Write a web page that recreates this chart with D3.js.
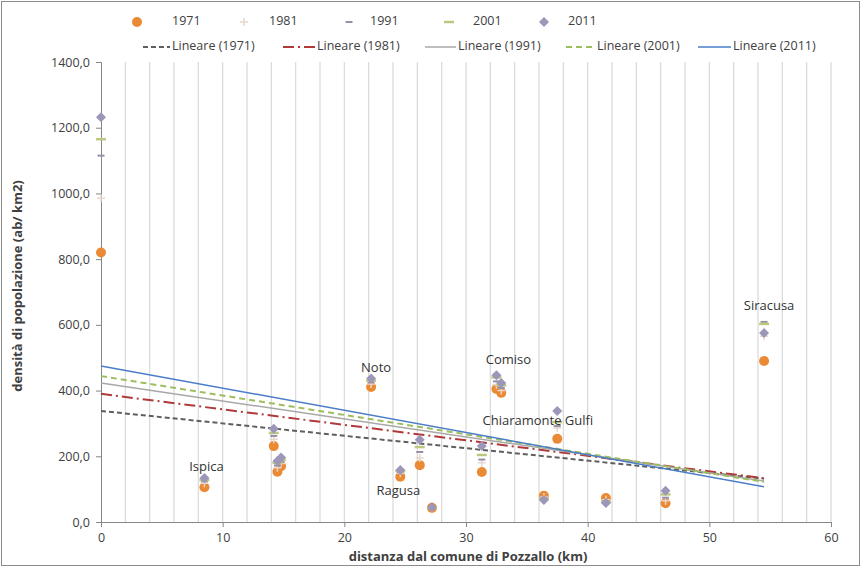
<!DOCTYPE html>
<html><head><meta charset="utf-8">
<script src="https://cdn.jsdelivr.net/npm/d3@7"></script>
<style>body{margin:0;background:#fff}svg{display:block}text{font-family:"Open Sans","Liberation Sans",sans-serif}</style>
</head><body><svg id="c" width="862" height="568"></svg>
<script>
// ---- data ----
const distances = [0, 8.5, 14.2, 14.5, 14.8, 22.2, 24.6, 26.2, 27.2, 31.3, 32.5, 32.9, 36.4, 37.5, 41.5, 46.4, 54.5];
const d1971 = [820, 106, 231, 153, 170, 411, 138, 173, 43, 152, 405, 393, 80, 253, 73, 57, 490];
const d1981 = [985, 118, 252, 165, 178, 420, 148, 195, 42, 180, 418, 400, 76, 286, 68, 65, 565];
const d1991 = [1115, 124, 262, 172, 184, 425, 152, 213, 43, 190, 428, 408, 73, 292, 64, 74, 609];
const d2001 = [1165, 128, 271, 180, 190, 430, 155, 228, 43, 204, 440, 416, 70, 304, 61, 84, 603];
const d2011 = [1232, 134, 284, 186, 196, 437, 158, 250, 45, 231, 447, 423, 67, 338, 58, 95, 575];
const townNames = ["", "Ispica", "", "", "", "Noto", "Ragusa", "", "", "", "Comiso", "", "Chiaramonte Gulfi", "", "", "", "Siracusa"];
const years = ["1971", "1981", "1991", "2001", "2011"];
const trendX = [0, 54.5];
const trendStart = [338, 390, 423, 444, 475];
const trendEnd = [132, 133, 125, 122, 107];
const xTicks = [0, 10, 20, 30, 40, 50, 60];
const yTicks = [0, 200, 400, 600, 800, 1000, 1200, 1400];

// ---- layout / styles ----
const series = [d1971, d1981, d1991, d2001, d2011];
const M = {l: 101, r: 831, t: 62, b: 522};
const markerStyle = [
  {type: "circle", color: "#EB8A35"},
  {type: "plus", color: "#E8D6CC"},
  {type: "dash", color: "#9A8FA6"},
  {type: "dash2", color: "#B9C97E"},
  {type: "diamond", color: "#9C97B8"}
];
const lineStyle = [
  {color: "#5F5F5F", dash: "5,3", w: 2},
  {color: "#B03A3A", dash: "11,4,2,4", w: 2},
  {color: "#A8A8A8", dash: null, w: 1.5},
  {color: "#9DBE5C", dash: "6,4", w: 2},
  {color: "#4A7EC7", dash: null, w: 1.5}
];
const labelOffset = {"Ispica": [2, -10], "Noto": [5, -10], "Ragusa": [-2, 21], "Comiso": [12, -15], "Chiaramonte Gulfi": [-6, -78], "Siracusa": [5, -27]};

const svg = d3.select("#c");
const x = d3.scaleLinear().domain([0, 60]).range([M.l, M.r]);
const y = d3.scaleLinear().domain([0, 1400]).range([M.b, M.t]);

// frame
svg.append("rect").attr("x", 1.5).attr("y", 1.5).attr("width", 858).attr("height", 564)
  .attr("fill", "none").attr("stroke", "#8C8C8C").attr("stroke-width", 1);

// vertical grid every 2 km
svg.append("g").selectAll("line").data(d3.range(2, 61, 2)).join("line")
  .attr("x1", d => x(d)).attr("x2", d => x(d)).attr("y1", M.t).attr("y2", M.b)
  .attr("stroke", "#D9D9D9").attr("stroke-width", 1.2);

// axes
const yAxis = d3.axisLeft(y).tickValues(yTicks).tickSize(5).tickPadding(6)
  .tickFormat(d => d3.format(".1f")(d).replace(".", ","));
const gy = svg.append("g").attr("transform", `translate(${M.l},0)`).call(yAxis);
const xAxis = d3.axisBottom(x).tickValues(xTicks).tickSize(5).tickPadding(6);
const gx = svg.append("g").attr("transform", `translate(0,${M.b})`).call(xAxis);
[gx, gy].forEach(g => {
  g.select(".domain").attr("stroke", "#868686");
  g.selectAll(".tick line").attr("stroke", "#868686");
  g.selectAll(".tick text").attr("fill", "#404040").style("font-size", "12.5px");
});

// axis titles
svg.append("text").attr("x", 468).attr("y", 561).attr("text-anchor", "middle")
  .style("font-size", "13px").style("font-weight", "bold").attr("fill", "#404040")
  .text("distanza dal comune di Pozzallo (km)");
svg.append("text").attr("transform", "translate(22,286) rotate(-90)").attr("text-anchor", "middle")
  .style("font-size", "13px").style("font-weight", "bold").attr("fill", "#404040")
  .text("densità di popolazione (ab/ km2)");

// trend lines
const gTrend = svg.append("g");
years.forEach((yr, i) => {
  const pts = [[trendX[0], trendStart[i]], [trendX[1], trendEnd[i]]];
  gTrend.append("path").datum(pts)
    .attr("d", d3.line().x(d => x(d[0])).y(d => y(d[1])))
    .attr("fill", "none").attr("stroke", lineStyle[i].color)
    .attr("stroke-width", lineStyle[i].w)
    .attr("stroke-dasharray", lineStyle[i].dash);
});

function drawMarker(g, st, cx, cy) {
  if (st.type === "circle") {
    g.append("circle").attr("cx", cx).attr("cy", cy).attr("r", 5).attr("fill", st.color);
  } else if (st.type === "diamond") {
    g.append("path").attr("d", `M${cx},${cy-5}L${cx+5},${cy}L${cx},${cy+5}L${cx-5},${cy}Z`)
      .attr("fill", st.color);
  } else if (st.type === "plus") {
    g.append("path").attr("d", `M${cx-4},${cy}H${cx+4}M${cx},${cy-4}V${cy+4}`)
      .attr("stroke", st.color).attr("stroke-width", 1.5);
  } else if (st.type === "dash") {
    g.append("path").attr("d", `M${cx-3.5},${cy}H${cx+3.5}`).attr("stroke", st.color).attr("stroke-width", 2);
  } else {
    g.append("path").attr("d", `M${cx-5},${cy}H${cx+5}`).attr("stroke", st.color).attr("stroke-width", 2.5);
  }
}

const gPts = svg.append("g");
series.forEach((vals, i) => {
  vals.forEach((v, j) => drawMarker(gPts, markerStyle[i], x(distances[j]), y(v)));
});

// town labels
townNames.forEach((n, j) => {
  if (!n) return;
  const o = labelOffset[n];
  svg.append("text").attr("x", x(distances[j]) + o[0]).attr("y", y(d2011[j]) + o[1])
    .attr("text-anchor", "middle").attr("dominant-baseline", "middle")
    .style("font-size", "13px").attr("fill", "#333").text(n);
});

// legend
const gL = svg.append("g").style("font-size", "12.5px");
const row1 = [137, 244, 349, 449, 544];
const row1Text = [172, 269, 370, 473, 568];
years.forEach((yr, i) => {
  drawMarker(gL, markerStyle[i], row1[i], 22);
  gL.append("text").attr("x", row1Text[i]).attr("y", 22).attr("dominant-baseline", "middle")
    .attr("fill", "#404040").text(yr);
});
const row2L = [143, 283, 425, 566, 698];
const row2R = [170, 315, 456, 595, 731];
years.forEach((yr, i) => {
  gL.append("line").attr("x1", row2L[i]).attr("x2", row2R[i]).attr("y1", 47).attr("y2", 47)
    .attr("stroke", lineStyle[i].color).attr("stroke-width", lineStyle[i].w)
    .attr("stroke-dasharray", lineStyle[i].dash);
  gL.append("text").attr("x", row2R[i] + 2).attr("y", 47).attr("dominant-baseline", "middle")
    .attr("fill", "#404040").text(`Lineare (${yr})`);
});
</script></body></html>
